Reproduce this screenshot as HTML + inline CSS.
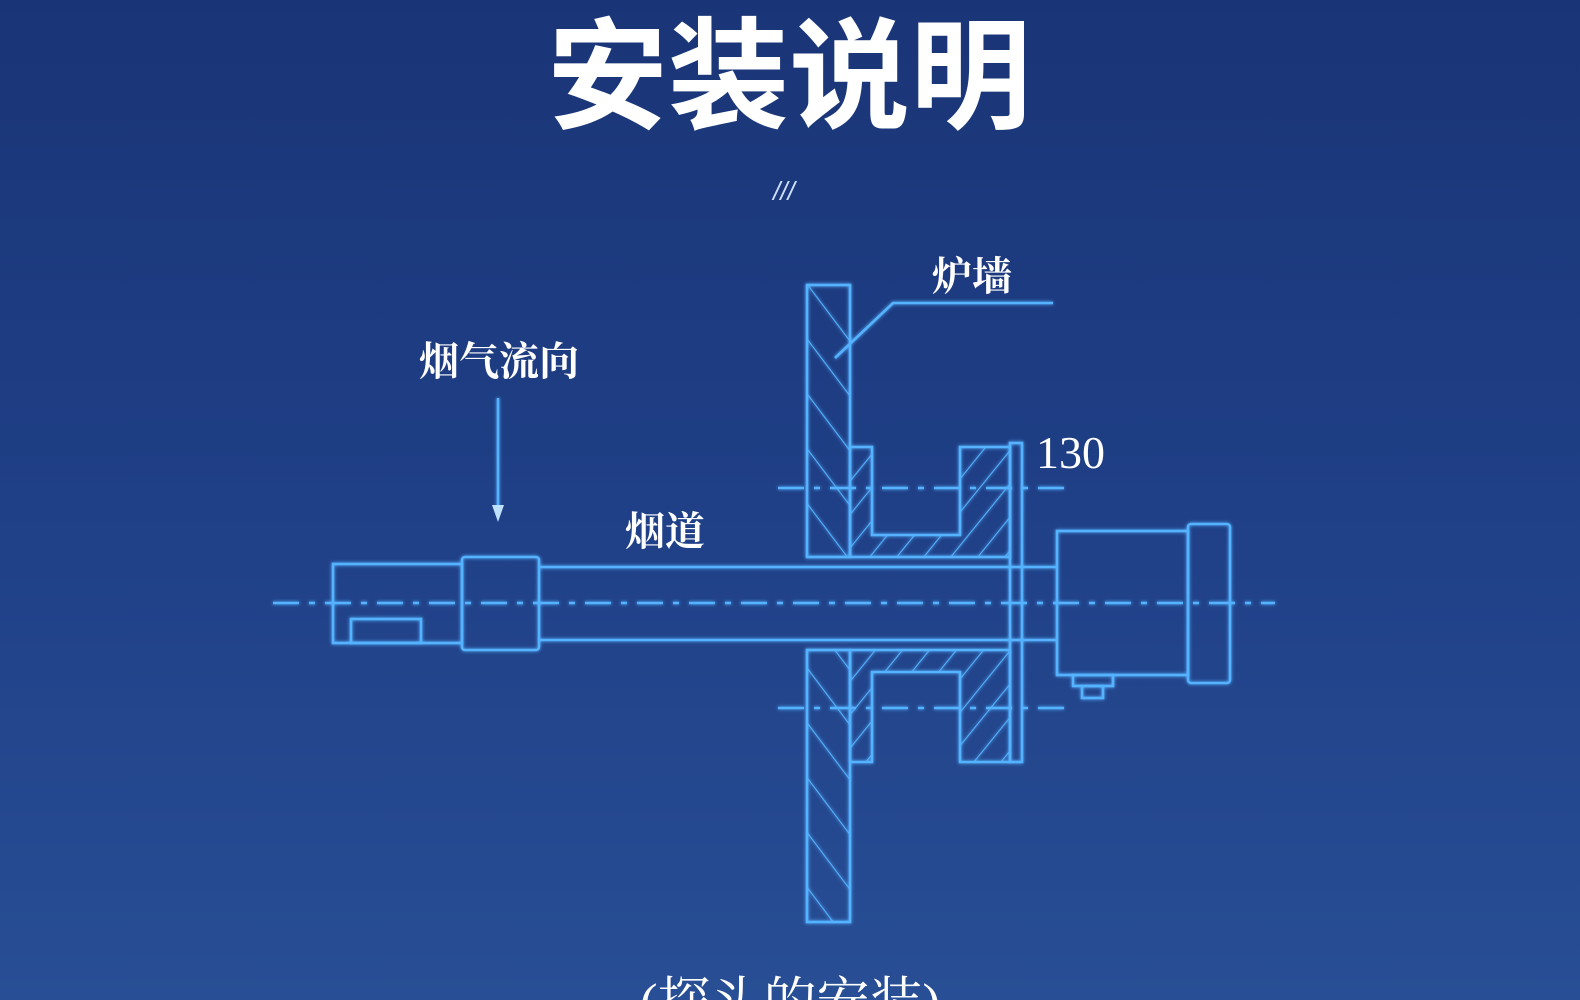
<!DOCTYPE html>
<html><head><meta charset="utf-8"><style>
html,body{margin:0;padding:0;}
body{width:1580px;height:1000px;overflow:hidden;background:linear-gradient(180deg,#1a3577 0%,#1f3f86 50%,#284e95 100%);position:relative;font-family:"Liberation Sans","Noto Sans CJK SC",sans-serif;}
svg{position:absolute;left:0;top:0;}
</style></head><body>
<svg width="1580" height="1000" viewBox="0 0 1580 1000">
<defs>
<pattern id="hb" width="33" height="33" patternUnits="userSpaceOnUse" patternTransform="translate(807,285) rotate(-37)">
<line x1="0" y1="0" x2="0" y2="33" stroke="#55b2ff" stroke-width="2.2"/>
</pattern>
<pattern id="hf" width="21" height="21" patternUnits="userSpaceOnUse" patternTransform="translate(850,447) rotate(39)">
<line x1="0" y1="0" x2="0" y2="21" stroke="#55b2ff" stroke-width="2.2"/>
</pattern>
<filter id="g" x="-10%" y="-10%" width="120%" height="120%"><feGaussianBlur stdDeviation="1.8" result="b"/><feMerge><feMergeNode in="b"/><feMergeNode in="SourceGraphic"/></feMerge></filter>
</defs>
<text x="789" y="119" text-anchor="middle" font-size="121" font-weight="bold" fill="#fff" font-family="'Noto Sans CJK SC',sans-serif">安装说明</text>
<text x="784" y="200" text-anchor="middle" font-size="26" fill="#cfe0ff" font-style="italic" font-family="'Liberation Sans',sans-serif">///</text>
<g font-family="'Noto Serif CJK SC','Liberation Serif',serif" fill="#fff" font-size="40" font-weight="bold">
<text x="419" y="375">烟气流向</text>
<text x="932" y="290">炉墙</text>
<text x="625" y="545">烟道</text>
</g>
<text x="1036" y="468" font-family="'Liberation Serif',serif" font-size="46" fill="#fff">130</text>
<text x="790" y="1020" text-anchor="middle" font-family="'Liberation Serif','Noto Serif CJK SC',serif" font-size="53" fill="#fff">(探头的安装)</text>
<g filter="url(#g)" stroke="#55b2ff" stroke-width="2.6" fill="none">
<rect x="807" y="285" width="43" height="272" fill="url(#hb)"/>
<rect x="807" y="650" width="43" height="272" fill="url(#hb)"/>
<polygon points="850,447 872,447 872,535 960,535 960,447 1010,447 1010,557 850,557" fill="url(#hf)"/>
<polygon points="850,650 1010,650 1010,762 960,762 960,672 872,672 872,762 850,762" fill="url(#hf)"/>
<rect x="1010" y="443" width="12" height="319"/>
<line x1="539" y1="567" x2="1057" y2="567"/>
<line x1="539" y1="640" x2="1057" y2="640"/>
<rect x="333" y="564" width="129" height="79"/>
<rect x="351" y="619" width="70" height="24"/>
<rect x="462" y="557" width="77" height="93" rx="3"/>
<rect x="1057" y="531" width="131" height="144"/>
<rect x="1188" y="524" width="42" height="159" rx="3"/>
<rect x="1073" y="675" width="40" height="11"/>
<rect x="1082" y="686" width="21" height="12"/>
<polyline points="835,358 893,303 1053,303"/>
<line x1="498" y1="398" x2="498" y2="508"/>
</g>
<polygon points="492,505 504,505 498,522" fill="#bfe0ff"/>
<g stroke="#55b2ff" stroke-width="2.6" fill="none" filter="url(#g)" stroke-dasharray="26,10,6,10">
<line x1="273" y1="603" x2="1275" y2="603"/>
<line x1="778" y1="488" x2="1065" y2="488"/>
<line x1="778" y1="708" x2="1065" y2="708"/>
</g>
</svg>
</body></html>
